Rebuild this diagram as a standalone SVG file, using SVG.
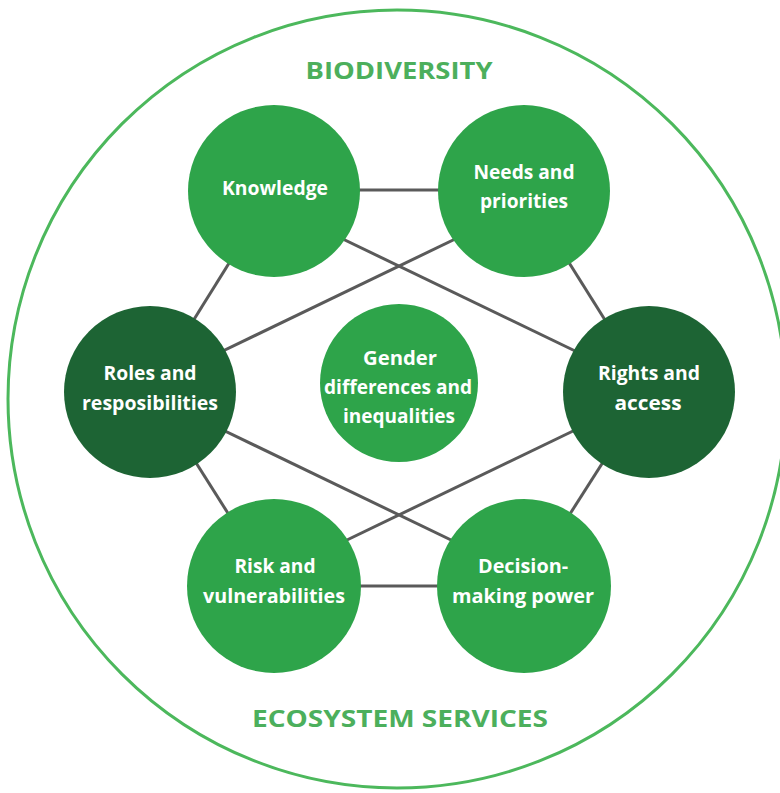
<svg xmlns="http://www.w3.org/2000/svg" width="780" height="793" viewBox="0 0 780 793">
<style>
.lbl{font-family:"Open Sans","Liberation Sans",sans-serif;font-weight:700;fill:#ffffff;font-size:20px;text-anchor:middle}
.ring{font-family:"Open Sans","Liberation Sans",sans-serif;font-weight:700;fill:#4caf5c;font-size:24px;text-anchor:middle}
.light{fill:#2ea44a}
.dark{fill:#1d6434}
.conn line{stroke:#5a5a5a;stroke-width:3}
</style>
<rect width="780" height="793" fill="#ffffff"/>
<g id="outer">
<circle cx="397" cy="399" r="389" fill="none" stroke="#4cb85c" stroke-width="3"/>
<text class="ring" x="399" y="79" textLength="187" lengthAdjust="spacingAndGlyphs">BIODIVERSITY</text>
<text class="ring" x="400" y="727" textLength="296" lengthAdjust="spacingAndGlyphs">ECOSYSTEM SERVICES</text>
</g>
<g id="connectors" class="conn">
<line x1="274" y1="190" x2="524" y2="190"/>
<line x1="274" y1="586" x2="524" y2="586"/>
<line x1="274" y1="191" x2="150" y2="390"/>
<line x1="524" y1="191" x2="649" y2="390"/>
<line x1="150" y1="390" x2="274" y2="586"/>
<line x1="649" y1="390" x2="524" y2="586"/>
<line x1="320" y1="228" x2="600" y2="363"/>
<line x1="478" y1="228" x2="198" y2="363"/>
<line x1="198" y1="418" x2="478" y2="553"/>
<line x1="600" y1="418" x2="320" y2="553"/>
</g>
<g id="knowledge">
<circle class="light" cx="274" cy="191" r="86"/>
<text class="lbl" x="275" y="195" textLength="106" lengthAdjust="spacingAndGlyphs">Knowledge</text>
</g>
<g id="needs">
<circle class="light" cx="524" cy="191" r="86"/>
<text class="lbl" x="524" y="179" textLength="101" lengthAdjust="spacingAndGlyphs">Needs and</text>
<text class="lbl" x="524" y="208" textLength="88" lengthAdjust="spacingAndGlyphs">priorities</text>
</g>
<g id="roles">
<circle class="dark" cx="150" cy="392" r="86"/>
<text class="lbl" x="150" y="380" textLength="93" lengthAdjust="spacingAndGlyphs">Roles and</text>
<text class="lbl" x="150" y="410" textLength="136" lengthAdjust="spacingAndGlyphs">resposibilities</text>
</g>
<g id="gender">
<circle class="light" cx="399" cy="383" r="79"/>
<text class="lbl" x="400" y="365" textLength="74" lengthAdjust="spacingAndGlyphs">Gender</text>
<text class="lbl" x="398" y="394" textLength="148" lengthAdjust="spacingAndGlyphs">differences and</text>
<text class="lbl" x="399" y="423" textLength="112" lengthAdjust="spacingAndGlyphs">inequalities</text>
</g>
<g id="rights">
<circle class="dark" cx="649" cy="392" r="86"/>
<text class="lbl" x="649" y="380" textLength="102" lengthAdjust="spacingAndGlyphs">Rights and</text>
<text class="lbl" x="648" y="410" textLength="67" lengthAdjust="spacingAndGlyphs">access</text>
</g>
<g id="risk">
<circle class="light" cx="274" cy="586" r="87"/>
<text class="lbl" x="275" y="573" textLength="81" lengthAdjust="spacingAndGlyphs">Risk and</text>
<text class="lbl" x="274" y="603" textLength="142" lengthAdjust="spacingAndGlyphs">vulnerabilities</text>
</g>
<g id="decision">
<circle class="light" cx="524" cy="586" r="87"/>
<text class="lbl" x="523" y="573" textLength="90" lengthAdjust="spacingAndGlyphs">Decision-</text>
<text class="lbl" x="523" y="603" textLength="142" lengthAdjust="spacingAndGlyphs">making power</text>
</g>
</svg>
